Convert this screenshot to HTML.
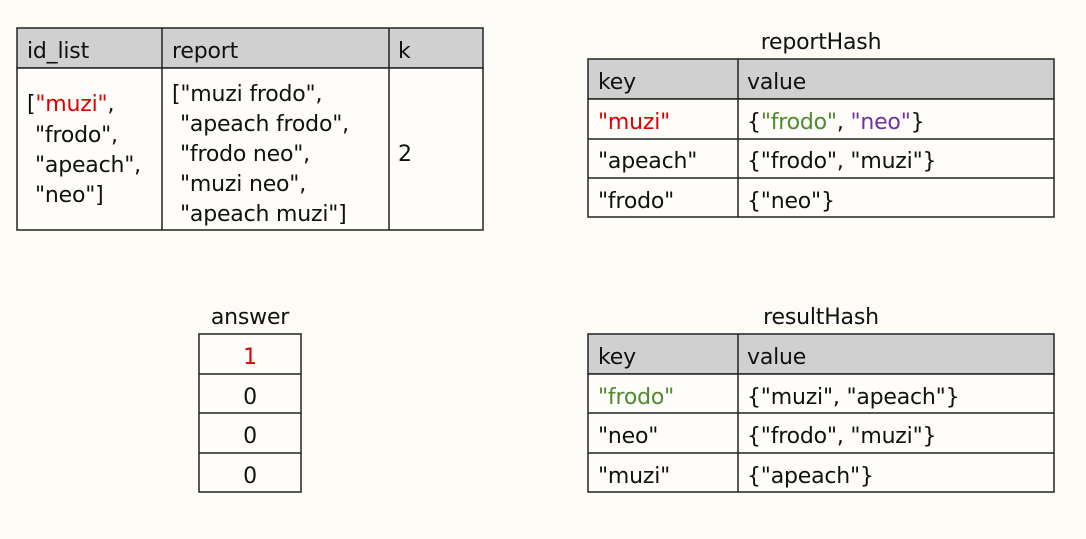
<!DOCTYPE html>
<html><head><meta charset="utf-8"><style>
html,body{margin:0;padding:0;background:#fdfbf5;}
svg{display:block}
text{font-family:"DejaVu Sans","Liberation Sans","NanumGothic",sans-serif;font-size:22px;letter-spacing:-0.2px;fill:#111}
.r{fill:#e00000}.g{fill:#4e8a2e}.p{fill:#7030a0}
</style></head><body>
<svg width="1086" height="539" xmlns="http://www.w3.org/2000/svg">
<rect width="1086" height="539" fill="#fdfbf5"/>
<g stroke="#222" stroke-width="1.5">
<rect x="17" y="28" width="466" height="40" fill="#d0d0d0"/>
<rect x="17" y="68" width="466" height="162" fill="#fefdf9"/>
<line x1="162" y1="28" x2="162" y2="230"/>
<line x1="389" y1="28" x2="389" y2="230"/>
<rect x="588" y="59" width="466" height="40" fill="#d0d0d0"/>
<rect x="588" y="99" width="466" height="118" fill="#fefdf9"/>
<line x1="588" y1="139" x2="1054" y2="139"/>
<line x1="588" y1="178" x2="1054" y2="178"/>
<line x1="738" y1="59" x2="738" y2="217"/>
<rect x="588" y="334" width="466" height="40" fill="#d0d0d0"/>
<rect x="588" y="374" width="466" height="118" fill="#fefdf9"/>
<line x1="588" y1="413" x2="1054" y2="413"/>
<line x1="588" y1="453" x2="1054" y2="453"/>
<line x1="738" y1="334" x2="738" y2="492"/>
<rect x="199" y="334" width="102" height="158" fill="#fefdf9"/>
<line x1="199" y1="374" x2="301" y2="374"/>
<line x1="199" y1="413" x2="301" y2="413"/>
<line x1="199" y1="453" x2="301" y2="453"/>
</g>
<text x="27" y="58">id_list</text>
<text x="172" y="58">report</text>
<text x="398" y="58">k</text>
<text x="27" y="111">[<tspan class="r">"muzi"</tspan>,</text>
<text x="35" y="142">"frodo",</text>
<text x="35" y="172">"apeach",</text>
<text x="35" y="202">"neo"]</text>
<text x="172" y="101">["muzi frodo",</text>
<text x="180" y="131">"apeach frodo",</text>
<text x="180" y="161">"frodo neo",</text>
<text x="180" y="191">"muzi neo",</text>
<text x="180" y="221">"apeach muzi"]</text>
<text x="398" y="161">2</text>
<text x="821" y="49" text-anchor="middle">reportHash</text>
<text x="598" y="89">key</text>
<text x="747" y="89">value</text>
<text x="598" y="129" class="r">"muzi"</text>
<text x="747" y="129">{<tspan class="g">"frodo"</tspan>, <tspan class="p">"neo"</tspan>}</text>
<text x="598" y="168">"apeach"</text>
<text x="747" y="168">{"frodo", "muzi"}</text>
<text x="598" y="208">"frodo"</text>
<text x="747" y="208">{"neo"}</text>
<text x="821" y="324" text-anchor="middle">resultHash</text>
<text x="598" y="364">key</text>
<text x="747" y="364">value</text>
<text x="598" y="404" class="g">"frodo"</text>
<text x="747" y="404">{"muzi", "apeach"}</text>
<text x="598" y="443">"neo"</text>
<text x="747" y="443">{"frodo", "muzi"}</text>
<text x="598" y="483">"muzi"</text>
<text x="747" y="483">{"apeach"}</text>
<text x="250" y="324" text-anchor="middle">answer</text>
<text x="250" y="364" text-anchor="middle" class="r">1</text>
<text x="250" y="404" text-anchor="middle">0</text>
<text x="250" y="443" text-anchor="middle">0</text>
<text x="250" y="483" text-anchor="middle">0</text>
</svg>
</body></html>
